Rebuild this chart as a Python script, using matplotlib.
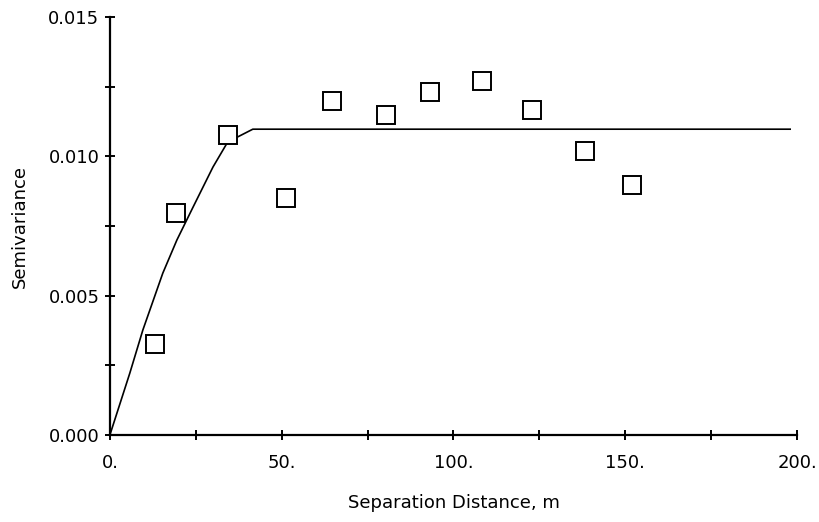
import matplotlib
matplotlib.use("Agg")
import matplotlib.pyplot as plt
from matplotlib.ticker import MultipleLocator, FuncFormatter

lag = [13.1, 19.2, 34.4, 51.2, 64.6, 80.3, 93.2, 108.3, 122.9, 138.3, 152.0]
gamma = [0.00327, 0.00797, 0.01077, 0.00850, 0.01199, 0.01148,
         0.01231, 0.01270, 0.01166, 0.01019, 0.00897]

# fitted model line, vertices as drawn
model_x = [0, 5.8, 9.6, 15.4, 19.5, 24.2, 30.0, 34.1, 37.0, 41.6, 198.0]
model_y = [0, 0.00222, 0.00377, 0.00581, 0.00700, 0.00818, 0.00962,
           0.01048, 0.01069, 0.01098, 0.01098]

plt.rcParams['font.family'] = ['DejaVu Sans']

fig = plt.figure(figsize=(8.2, 5.22), dpi=100)
ax = fig.add_axes([0.134, 0.1667, 0.838, 0.8003])

ax.plot(model_x, model_y, color='black', lw=1.2, zorder=2)
ax.plot(lag, gamma, linestyle='none', marker='s', markersize=13,
        markerfacecolor='white', markeredgecolor='black', markeredgewidth=1.4, zorder=3)

ax.set_xlim(0, 200)
ax.set_ylim(0, 0.015)

for s in ['top', 'right']:
    ax.spines[s].set_visible(False)
for s in ['left', 'bottom']:
    ax.spines[s].set_linewidth(1.6)

ax.xaxis.set_major_locator(MultipleLocator(50))
ax.xaxis.set_minor_locator(MultipleLocator(25))
ax.yaxis.set_major_locator(MultipleLocator(0.005))
ax.yaxis.set_minor_locator(MultipleLocator(0.0025))
ax.xaxis.set_major_formatter(FuncFormatter(lambda v, p: '%d.' % v))
ax.yaxis.set_major_formatter(FuncFormatter(lambda v, p: '%.3f' % v))

ax.tick_params(which='both', direction='inout', length=7, width=1.4, labelsize=13, pad=4)
ax.tick_params(axis='x', pad=10)

ax.set_xlabel('Separation Distance, m', fontsize=13, labelpad=16)
ax.set_ylabel('Semivariance', fontsize=13, labelpad=14)

fig.savefig('out.png', dpi=100)
